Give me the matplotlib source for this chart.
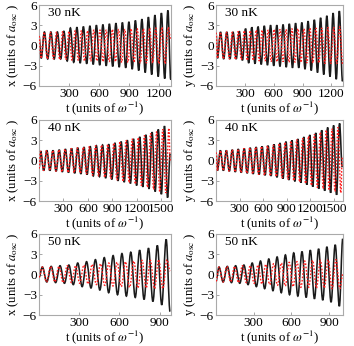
import matplotlib
matplotlib.use("Agg")
import matplotlib.pyplot as plt
from matplotlib.path import Path
from matplotlib.patches import PathPatch

plt.rcParams['font.family'] = ['Liberation Serif', 'DejaVu Serif']
plt.rcParams['mathtext.fontset'] = 'stix'

# ---------------- data: extremum times / values ----------------
# 30 nK, x
x30_blk_t = [0, 22, 54, 87, 119, 152, 184, 217, 249, 282, 314, 347, 379, 412, 444, 477, 509, 542, 574, 607, 639,
             672, 704, 737, 769, 802, 834, 867, 899, 932, 964, 997, 1029, 1062, 1094, 1127, 1159, 1192, 1224, 1257,
             1289, 1318]
x30_blk_v = [1.4, -1.9, 2.0, -2.0, 2.0, -2.0, 2.0, -2.0, 2.1, -2.3, 2.6, -2.5, 2.7, -2.6, 2.8, -2.7, 2.9, -2.8, 3.0,
             -2.9, 3.1, -3.0, 3.2, -3.1, 3.3, -3.2, 3.4, -3.3, 3.5, -3.5, 3.7, -3.7, 3.9, -4.0, 4.2, -4.3, 4.5, -4.6,
             4.8, -4.9, 5.2, -5.1]
x30_red_t = [0, 21, 52, 83, 114, 145, 176, 207, 238, 269, 300, 331, 362, 393, 424, 455, 486, 517, 548, 579, 610, 641,
             672, 703, 734, 765, 796, 827, 858, 889, 920, 951, 982, 1013, 1044, 1075, 1106, 1137, 1168, 1199, 1230,
             1261, 1292, 1318]
x30_red_v = [1.4, -1.9, 2.0, -2.0, 2.0, -2.0, 2.0, -2.1, 2.1, -2.1, 2.1, -2.2, 2.2, -2.2, 2.2, -2.3, 2.2, -2.3, 2.3,
             -2.3, 2.3, -2.4, 2.3, -2.4, 2.4, -2.4, 2.4, -2.5, 2.4, -2.5, 2.5, -2.5, 2.5, -2.6, 2.5, -2.6, 2.6, -2.6,
             2.6, -2.7, 2.7, -2.7, 2.7, 0.8]
# 30 nK, y
y30_blk_t = [0, 15, 47, 80, 112, 145, 177, 210, 242, 275, 307, 340, 372, 405, 437, 470, 502, 535, 567, 600, 632, 665,
             697, 730, 762, 795, 827, 860, 892, 925, 957, 990, 1022, 1055, 1087, 1120, 1152, 1185, 1217, 1250, 1282,
             1315, 1320]
y30_blk_v = [1.9, -1.9, 2.0, -2.0, 2.0, -2.0, 2.0, -2.0, 2.1, -2.2, 2.5, -2.6, 2.7, -2.7, 2.8, -2.8, 2.9, -2.9, 3.0,
             -3.0, 3.0, -3.1, 3.1, -3.2, 3.2, -3.3, 3.3, -3.3, 3.4, -3.5, 3.6, -3.7, 3.8, -4.0, 4.1, -4.3, 4.4, -4.6,
             4.8, -5.0, 5.1, -5.3, -5.1]
y30_red_t = [0, 15, 46, 77, 108, 139, 170, 201, 232, 263, 294, 325, 356, 387, 418, 449, 480, 511, 542, 573, 604, 635,
             666, 697, 728, 759, 790, 821, 852, 883, 914, 945, 976, 1007, 1038, 1069, 1100, 1131, 1162, 1193, 1224,
             1255, 1286, 1317, 1320]
y30_red_v = [1.9, -1.9, 2.0, -2.0, 2.0, -2.0, 2.0, -2.1, 2.1, -2.1, 2.2, -2.2, 2.2, -2.2, 2.3, -2.3, 2.3, -2.3, 2.3,
             -2.4, 2.4, -2.4, 2.4, -2.4, 2.4, -2.5, 2.5, -2.5, 2.5, -2.5, 2.5, -2.6, 2.6, -2.6, 2.6, -2.6, 2.6, -2.7,
             2.7, -2.7, 2.7, -2.7, 2.8, -2.8, -2.7]
# 40 nK, x
x40_blk_t = [0, 20, 58, 96, 134, 172, 210, 248, 286, 324, 362, 400, 438, 476, 514, 552, 590, 628, 666, 704, 742, 780,
             818, 856, 894, 932, 970, 1008, 1046, 1084, 1122, 1160, 1198, 1236, 1274, 1312, 1350, 1388, 1426, 1464,
             1502, 1540, 1578, 1610]
x40_blk_v = [-1.2, 1.4, -1.5, 1.5, -1.5, 1.5, -1.6, 1.6, -1.7, 1.7, -1.8, 1.8, -1.9, 1.9, -2.0, 2.0, -2.1, 2.1, -2.3,
             2.2, -2.4, 2.3, -2.6, 2.4, -2.8, 2.6, -3.0, 2.8, -3.2, 3.0, -3.4, 3.2, -3.7, 3.5, -3.9, 3.8, -4.2, 4.2,
             -4.6, 4.6, -5.0, 5.1, -5.5, 1.0]
x40_red_t = [0, 19, 57, 94, 132, 169, 207, 244, 282, 319, 357, 394, 432, 469, 507, 544, 582, 619, 657, 694, 732, 769,
             807, 844, 882, 919, 957, 994, 1032, 1069, 1107, 1144, 1182, 1219, 1257, 1294, 1332, 1369, 1407, 1444,
             1482, 1519, 1557, 1594, 1610]
x40_red_v = [-1.2, 1.4, -1.5, 1.5, -1.5, 1.5, -1.6, 1.6, -1.7, 1.7, -1.8, 1.8, -1.8, 1.9, -1.9, 2.0, -2.0, 2.1, -2.2,
             2.2, -2.3, 2.3, -2.5, 2.4, -2.7, 2.6, -2.9, 2.8, -3.1, 3.0, -3.3, 3.2, -3.5, 3.4, -3.7, 3.7, -4.0, 4.0,
             -4.3, 4.3, -4.6, 4.6, -4.8, 4.8, 0.0]
# 40 nK, y
y40_blk_t = [0, 18, 56, 94, 132, 170, 208, 246, 284, 322, 360, 398, 436, 474, 512, 550, 588, 626, 664, 702, 740, 778,
             816, 854, 892, 930, 968, 1006, 1044, 1082, 1120, 1158, 1196, 1234, 1272, 1310, 1348, 1386, 1424, 1462,
             1500, 1538, 1576, 1610]
y40_blk_v = [1.2, -1.5, 1.5, -1.5, 1.5, -1.6, 1.6, -1.7, 1.7, -1.8, 1.8, -1.9, 1.9, -2.0, 2.0, -2.1, 2.1, -2.2, 2.2,
             -2.3, 2.4, -2.5, 2.6, -2.7, 2.8, -2.9, 3.0, -3.1, 3.2, -3.3, 3.5, -3.6, 3.8, -3.9, 4.1, -4.2, 4.5, -4.5,
             4.9, -4.8, 5.2, -5.1, 5.5, -1.0]
y40_red_t = [0, 18, 56, 93, 131, 168, 206, 243, 281, 318, 356, 393, 431, 468, 506, 543, 581, 618, 656, 693, 731, 768,
             806, 843, 881, 918, 956, 993, 1031, 1068, 1106, 1143, 1181, 1218, 1256, 1293, 1331, 1368, 1406, 1443,
             1481, 1518, 1556, 1593, 1610]
y40_red_v = [1.2, -1.5, 1.5, -1.5, 1.5, -1.6, 1.6, -1.7, 1.7, -1.8, 1.8, -1.9, 1.9, -2.0, 2.0, -2.1, 2.1, -2.2, 2.2,
             -2.3, 2.3, -2.4, 2.5, -2.6, 2.7, -2.8, 2.9, -3.0, 3.1, -3.2, 3.3, -3.4, 3.6, -3.7, 3.9, -4.0, 4.2, -4.2,
             4.5, -4.4, 4.7, -4.6, 4.9, -4.8, 0.5]
# 50 nK, x
x50_blk_t = [0, 25, 58, 91, 124, 157, 190, 223, 256, 289, 322, 355, 388, 421, 454, 487, 520, 553, 586, 619, 652, 685,
             718, 751, 784, 817, 850, 883, 916, 949, 978]
x50_blk_v = [-0.4, 1.1, -1.1, 1.2, -1.2, 1.3, -1.3, 1.4, -1.5, 1.7, -1.8, 1.9, -2.0, 2.2, -2.3, 2.5, -2.7, 2.8, -3.0,
             3.1, -3.2, 3.3, -3.4, 3.6, -3.7, 3.9, -4.0, 4.3, -4.5, 5.2, -5.5]
x50_red_t = [0, 25, 56, 87, 118, 149, 180, 211, 242, 273, 304, 335, 366, 397, 428, 459, 490, 521, 552, 583, 614, 645,
             676, 707, 738, 769, 800, 831, 862, 893, 924, 955, 978]
x50_red_v = [-0.4, 1.1, -1.1, 1.2, -1.1, 1.2, -1.2, 1.3, -1.2, 1.3, -1.3, 1.4, -1.4, 1.5, -1.5, 1.6, -1.6, 1.7, -1.7,
             1.8, -1.8, 1.9, -1.9, 2.0, -2.0, 2.1, -2.0, 2.1, -2.1, 2.2, -2.1, 2.2, 0.5]
# 50 nK, y
y50_blk_t = [0, 24, 57, 90, 123, 156, 189, 222, 255, 288, 321, 354, 387, 420, 453, 486, 519, 552, 585, 618, 651, 684,
             717, 750, 783, 816, 849, 882, 915, 948, 981, 1008]
y50_blk_v = [-1.0, 1.1, -1.1, 1.2, -1.2, 1.3, -1.3, 1.4, -1.5, 1.7, -1.8, 2.0, -2.1, 2.3, -2.4, 2.6, -2.7, 2.9, -3.0,
             3.2, -3.2, 3.4, -3.4, 3.6, -3.6, 3.8, -3.8, 4.1, -4.1, 4.4, -4.7, 5.3]
y50_red_t = [0, 24, 55, 86, 117, 148, 179, 210, 241, 272, 303, 334, 365, 396, 427, 458, 489, 520, 551, 582, 613, 644,
             675, 706, 737, 768, 799, 830, 861, 892, 923, 954, 985, 1008]
y50_red_v = [-1.0, 1.1, -1.1, 1.2, -1.1, 1.2, -1.2, 1.3, -1.2, 1.3, -1.3, 1.4, -1.4, 1.5, -1.5, 1.6, -1.6, 1.7, -1.7,
             1.8, -1.8, 1.9, -1.9, 2.0, -1.9, 2.1, -2.0, 2.1, -2.0, 2.2, -2.1, 2.2, -2.1, 0.0]

temps = ["30 nK", "40 nK", "50 nK"]
coords = ["x", "y"]
y_ticks = [-6, -3, 0, 3, 6]
x_ticks_30 = [300, 600, 900, 1200]
x_ticks_40 = [300, 600, 900, 1200, 1500]
x_ticks_50 = [300, 600, 900]


def smooth_path(ts, vs):
    """Path through the extrema, drawn with cubic Bezier segments (flat at each extremum)."""
    n = min(len(ts), len(vs))
    verts = [(ts[0], vs[0])]
    codes = [Path.MOVETO]
    k = 0.3642
    for i in range(1, n):
        t1, v1, t2, v2 = ts[i - 1], vs[i - 1], ts[i], vs[i]
        d = (t2 - t1) * k
        verts += [(t1 + d, v1), (t2 - d, v2), (t2, v2)]
        codes += [Path.CURVE4, Path.CURVE4, Path.CURVE4]
    return Path(verts, codes)


# ---------------- layout ----------------
W, H = 354, 346
fig = plt.figure(figsize=(W / 100, H / 100), dpi=100)

col_x = [(39, 132), (216, 127)]
row_y = [(5, 81), (120, 81), (234, 81)]

panels = [
    [(x30_blk_t, x30_blk_v, x30_red_t, x30_red_v, 1320, x_ticks_30),
     (y30_blk_t, y30_blk_v, y30_red_t, y30_red_v, 1320, x_ticks_30)],
    [(x40_blk_t, x40_blk_v, x40_red_t, x40_red_v, 1620, x_ticks_40),
     (y40_blk_t, y40_blk_v, y40_red_t, y40_red_v, 1620, x_ticks_40)],
    [(x50_blk_t, x50_blk_v, x50_red_t, x50_red_v, 985, x_ticks_50),
     (y50_blk_t, y50_blk_v, y50_red_t, y50_red_v, 1010, x_ticks_50)],
]

fs = 9.5
lfs = 9.2
for r in range(3):
    for c in range(2):
        bt, bv, rt, rv, xmax, xt = panels[r][c]
        x0, w = col_x[c]
        y0, h = row_y[r]
        ax = fig.add_axes([x0 / W, 1 - (y0 + h) / H, w / W, h / H])
        ax.add_patch(PathPatch(smooth_path(bt, bv), facecolor='none', edgecolor='#1a1a1a',
                               lw=1.15, zorder=2))
        ax.add_patch(PathPatch(smooth_path(rt, rv), facecolor='none', edgecolor='#ff1a1a',
                               lw=1.0, ls=(0, (1.2, 1.2)), zorder=3))
        ax.set_xlim(0, xmax)
        ax.set_ylim(-6, 6)
        ax.set_yticks(y_ticks)
        ax.set_yticklabels(["\u22126", "\u22123", "0", "3", "6"])
        ax.set_xticks(xt)
        ax.tick_params(direction='in', length=2, width=0.6, color='#999999', labelsize=fs, pad=1.5)
        for s in ax.spines.values():
            s.set_color('#aaaaaa')
            s.set_linewidth(0.8)
        ax.set_xlabel(r"t (units of $\omega^{-1}$)", fontsize=lfs, labelpad=-0.5)
        ax.set_ylabel(coords[c] + r" (units of $a_{\rm osc}$ )", fontsize=lfs, labelpad=1)
        ax.text(0.07, 0.97, temps[r], transform=ax.transAxes, ha='left', va='top', fontsize=fs)

fig.savefig("out.png", dpi=100)
